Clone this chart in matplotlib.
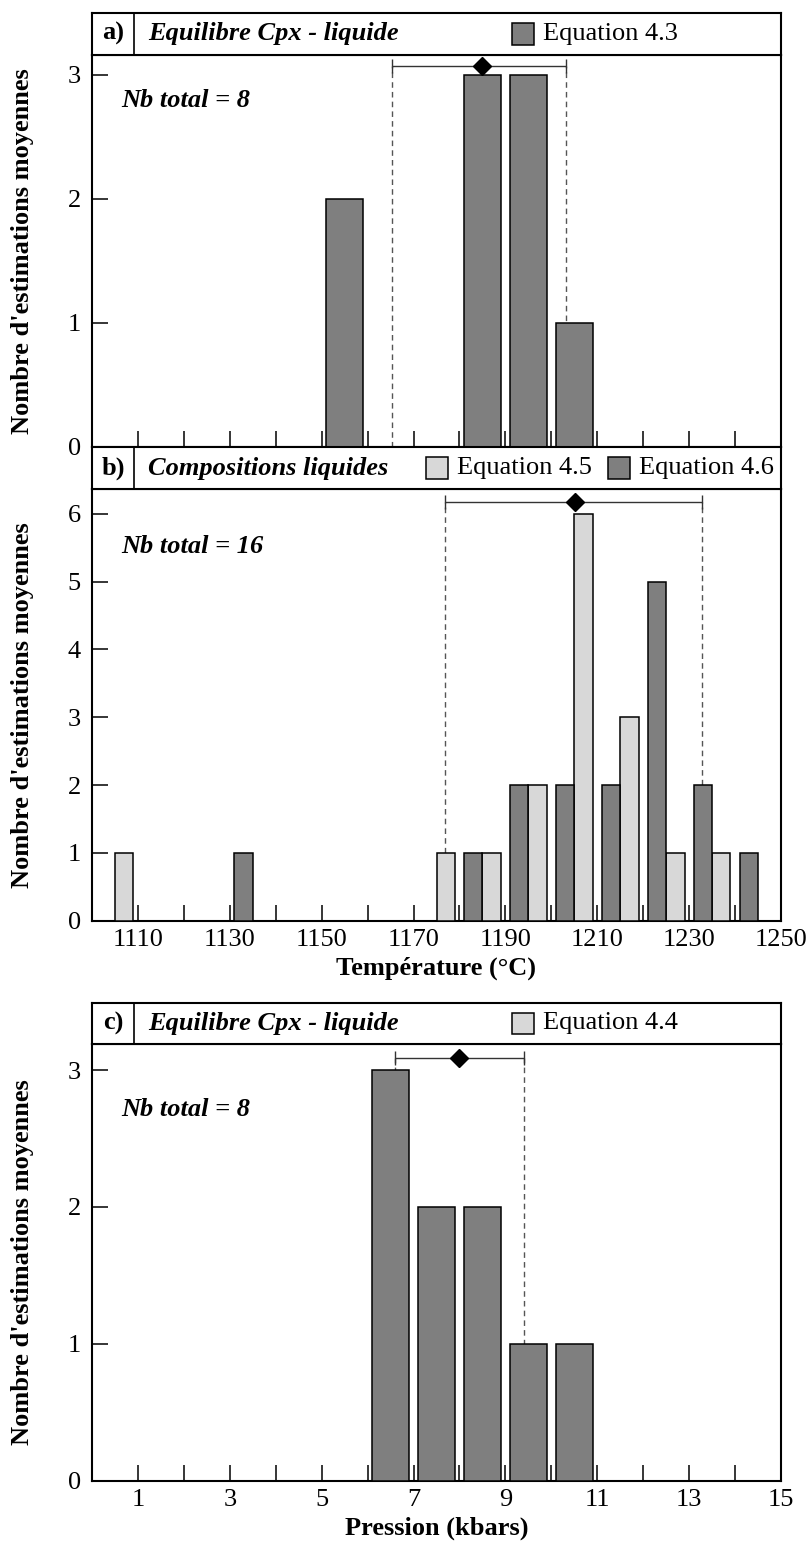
import matplotlib
matplotlib.use("Agg")
import matplotlib.pyplot as plt
from matplotlib.patches import Rectangle

plt.rcParams['font.family'] = ['Liberation Serif', 'DejaVu Serif']

# ---------------- data ----------------
# Panel a : Equilibre Cpx - liquide (Equation 4.3), temperature
temp_bins_a = [1155, 1185, 1195, 1205]
counts_eq43 = [2, 3, 3, 1]
stats_a = (1184.8, 1165.4, 1203.3)   # mean, low, high

# Panel b : Compositions liquides (Equations 4.5 and 4.6), temperature
temp_bins_b = [1105, 1115, 1125, 1135, 1145, 1155, 1165, 1175,
               1185, 1195, 1205, 1215, 1225, 1235, 1245]
counts_eq45 = [1, 0, 0, 0, 0, 0, 0, 1, 1, 2, 6, 3, 1, 1, 0]
counts_eq46 = [0, 0, 0, 1, 0, 0, 0, 0, 1, 2, 2, 2, 5, 2, 1]
stats_b = (1205.1, 1176.9, 1232.9)

# Panel c : Equilibre Cpx - liquide (Equation 4.4), pressure
press_bins = [6.5, 7.5, 8.5, 9.5, 10.5]
counts_eq44 = [3, 2, 2, 1, 1]
stats_c = (8.0, 6.6, 9.4)

temp_major = [1110, 1130, 1150, 1170, 1190, 1210, 1230, 1250]
temp_minor = [1120, 1140, 1160, 1180, 1200, 1220, 1240]
press_major = [1, 3, 5, 7, 9, 11, 13, 15]
press_minor = [2, 4, 6, 8, 10, 12, 14]

# ---------------- style ----------------
DARK = '#7f7f7f'
LIGHT = '#d8d8d8'
FS = 19
W, H = 811, 1542
fig = plt.figure(figsize=(W / 100, H / 100), dpi=100)

L, R = 92, 781


def frac_rect(top_px, bot_px):
    return [L / W, 1 - bot_px / H, (R - L) / W, (bot_px - top_px) / H]


def style_axis(ax, ylim, yticks):
    ax.set_ylim(*ylim)
    ax.set_yticks(yticks)
    for s in ax.spines.values():
        s.set_linewidth(1.5)
    ax.tick_params(axis='both', which='both', direction='in', length=11.5,
                   width=1.1, labelsize=FS, right=False, top=False)
    ax.tick_params(axis='y', pad=8)
    ax.tick_params(axis='x', pad=6)


def header(rect, label, title, entries):
    hx = fig.add_axes(rect)
    hx.set_xlim(0, 1)
    hx.set_ylim(0, 1)
    hx.set_xticks([])
    hx.set_yticks([])
    for s in hx.spines.values():
        s.set_linewidth(1.5)
    hx.axvline(0.061, color='black', lw=1.2)
    hx.text(0.0305, 0.5, label, ha='center', va='center', fontsize=FS,
            fontweight='bold')
    hx.text(0.081, 0.5, title, ha='left', va='center', fontsize=FS,
            fontweight='bold', fontstyle='italic')
    for xp, color, txt in entries:
        hx.add_patch(Rectangle((xp, 0.24), 0.032, 0.52, facecolor=color,
                               edgecolor='black', lw=1.1))
        hx.text(xp + 0.045, 0.5, txt, ha='left', va='center', fontsize=FS)
    return hx


def mean_range(ax, stats, y):
    m, lo, hi = stats
    ax.vlines([lo, hi], 0, y, colors='#555555', linestyles=(0, (4, 3)),
              lw=1.0, zorder=1)
    ax.errorbar([m], [y], xerr=[[m - lo], [hi - m]], fmt='D', color='black',
                ms=9, ecolor='#333333', elinewidth=1.0, capsize=5,
                capthick=1.0, zorder=4)


def bars(ax, xs, hs, width, color):
    px = [x for x, h in zip(xs, hs) if h > 0]
    ph = [h for h in hs if h > 0]
    ax.bar(px, ph, width=width, color=color, edgecolor='black', lw=1.1,
           zorder=3)


ylab = "Nombre d'estimations moyennes"

# ---------- panel a ----------
axa = fig.add_axes(frac_rect(55, 446.7))
bars(axa, temp_bins_a, counts_eq43, 8, DARK)
mean_range(axa, stats_a, 3.07)
axa.set_xlim(1100, 1250)
axa.set_xticks(temp_major)
axa.set_xticks(temp_minor, minor=True)
axa.set_xticklabels([])
style_axis(axa, (0, 3.16), [0, 1, 2, 3])
axa.text(0.043, 0.885, 'Nb total = 8', transform=axa.transAxes, ha='left',
         va='center', fontsize=FS, fontweight='bold', fontstyle='italic')
header(frac_rect(12.7, 55), 'a)', 'Equilibre Cpx - liquide',
       [(0.6096, DARK, 'Equation 4.3')])
fig.text(23 / W, 1 - 250.8 / H, ylab, rotation=90, ha='center', va='center',
         fontsize=FS, fontweight='bold')

# ---------- panel b ----------
axb = fig.add_axes(frac_rect(489.3, 920.7))
bars(axb, [x + 2 for x in temp_bins_b], counts_eq45, 4, LIGHT)
bars(axb, [x - 2 for x in temp_bins_b], counts_eq46, 4, DARK)
mean_range(axb, stats_b, 6.17)
axb.set_xlim(1100, 1250)
axb.set_xticks(temp_major)
axb.set_xticks(temp_minor, minor=True)
style_axis(axb, (0, 6.36), [0, 1, 2, 3, 4, 5, 6])
axb.set_xlabel('Température (°C)', fontsize=FS, fontweight='bold',
               labelpad=4)
axb.text(0.043, 0.867, 'Nb total = 16', transform=axb.transAxes, ha='left',
         va='center', fontsize=FS, fontweight='bold', fontstyle='italic')
header(frac_rect(446.7, 489.3), 'b)', 'Compositions liquides',
       [(0.485, LIGHT, 'Equation 4.5'), (0.749, DARK, 'Equation 4.6')])
fig.text(23 / W, 1 - 705 / H, ylab, rotation=90, ha='center', va='center',
         fontsize=FS, fontweight='bold')

# ---------- panel c ----------
axc = fig.add_axes(frac_rect(1044, 1480.7))
bars(axc, press_bins, counts_eq44, 0.8, DARK)
mean_range(axc, stats_c, 3.085)
axc.set_xlim(0, 15)
axc.set_xticks(press_major)
axc.set_xticks(press_minor, minor=True)
style_axis(axc, (0, 3.19), [0, 1, 2, 3])
axc.set_xlabel('Pression (kbars)', fontsize=FS, fontweight='bold',
               labelpad=4)
axc.text(0.043, 0.849, 'Nb total = 8', transform=axc.transAxes, ha='left',
         va='center', fontsize=FS, fontweight='bold', fontstyle='italic')
header(frac_rect(1002.7, 1044), 'c)', 'Equilibre Cpx - liquide',
       [(0.6096, LIGHT, 'Equation 4.4')])
fig.text(23 / W, 1 - 1262 / H, ylab, rotation=90, ha='center', va='center',
         fontsize=FS, fontweight='bold')

fig.savefig('out.png', dpi=100)
